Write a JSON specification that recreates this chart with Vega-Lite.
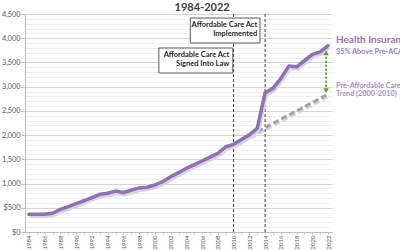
{
  "$schema": "https://vega.github.io/schema/vega-lite/v6.json",
  "width": 307,
  "height": 218,
  "autosize": "none",
  "padding": {"left": 25, "top": 14, "right": 68, "bottom": 18},
  "background": "white",
  "config": {
    "view": {"stroke": null},
    "font": "Lato",
    "axis": {"labelFont": "Lato", "labelColor": "#595959", "domainColor": "#bfbfbf", "tickColor": "#bfbfbf"}
  },
  "datasets": {
    "premium": [
      {"year": 1984, "cost": 365}, {"year": 1985, "cost": 365}, {"year": 1986, "cost": 367},
      {"year": 1987, "cost": 388}, {"year": 1988, "cost": 468}, {"year": 1989, "cost": 525},
      {"year": 1990, "cost": 585}, {"year": 1991, "cost": 645}, {"year": 1992, "cost": 712},
      {"year": 1993, "cost": 778}, {"year": 1994, "cost": 800}, {"year": 1995, "cost": 845},
      {"year": 1996, "cost": 815}, {"year": 1997, "cost": 865}, {"year": 1998, "cost": 910},
      {"year": 1999, "cost": 925}, {"year": 2000, "cost": 970}, {"year": 2001, "cost": 1040},
      {"year": 2002, "cost": 1140}, {"year": 2003, "cost": 1225}, {"year": 2004, "cost": 1315},
      {"year": 2005, "cost": 1390}, {"year": 2006, "cost": 1465}, {"year": 2007, "cost": 1545},
      {"year": 2008, "cost": 1625}, {"year": 2009, "cost": 1760}, {"year": 2010, "cost": 1810},
      {"year": 2011, "cost": 1910}, {"year": 2012, "cost": 2005}, {"year": 2013, "cost": 2140},
      {"year": 2014, "cost": 2875}, {"year": 2015, "cost": 2965}, {"year": 2016, "cost": 3170},
      {"year": 2017, "cost": 3425}, {"year": 2018, "cost": 3410}, {"year": 2019, "cost": 3535},
      {"year": 2020, "cost": 3665}, {"year": 2021, "cost": 3720}, {"year": 2022, "cost": 3845}
    ],
    "trend": [
      {"year": 2010, "cost": 1810},
      {"year": 2022, "cost": 2845}
    ],
    "events": [
      {"year": 2010, "cost": 0, "cost2": 4500, "label": "Signed Into Law"},
      {"year": 2014, "cost": 0, "cost2": 4500, "label": "Implemented"}
    ],
    "boxes": [
      {"year": 2004.5, "year2": 2013.35, "cost": 4417, "cost2": 3901},
      {"year": 2000.5, "year2": 2009.9, "cost": 3798, "cost2": 3282}
    ],
    "boxText": [
      {"year": 2013.0, "cost": 4272, "text": "Affordable Care Act"},
      {"year": 2013.0, "cost": 4081, "text": "Implemented"},
      {"year": 2009.45, "cost": 3653, "text": "Affordable Care Act"},
      {"year": 2009.45, "cost": 3461, "text": "Signed Into Law"}
    ],
    "gap": [
      {"year": 2021.75, "cost": 3700, "cost2": 2920}
    ],
    "heads": [
      {"year": 2021.75, "cost": 3700, "dir": "up"},
      {"year": 2021.75, "cost": 2920, "dir": "down"}
    ],
    "sideText": [
      {"kind": "main", "year": 2023.0, "cost": 3963, "text": "Health Insurance"},
      {"kind": "mainSub", "year": 2023.0, "cost": 3722, "text": "35% Above Pre-ACA"},
      {"kind": "trend", "year": 2023.0, "cost": 3014, "text": "Pre-Affordable Care"},
      {"kind": "trend", "year": 2023.0, "cost": 2849, "text": "Trend (2000-2010)"},
      {"kind": "title", "year": 2006.0, "cost": 4625, "text": "1984-2022"}
    ]
  },
  "encoding": {
    "x": {
      "field": "year", "type": "quantitative",
      "scale": {"domain": [1983.5, 2022.5], "nice": false, "zero": false},
      "axis": {
        "title": null,
        "values": [1984, 1985, 1986, 1987, 1988, 1989, 1990, 1991, 1992, 1993, 1994, 1995, 1996, 1997, 1998, 1999, 2000, 2001, 2002, 2003, 2004, 2005, 2006, 2007, 2008, 2009, 2010, 2011, 2012, 2013, 2014, 2015, 2016, 2017, 2018, 2019, 2020, 2021, 2022],
        "format": "d",
        "labelExpr": "datum.value % 2 === 0 ? datum.label : ''",
        "labelAngle": -90,
        "labelFontSize": 6,
        "labelPadding": 1,
        "labelOverlap": false,
        "labelFlush": false,
        "labelBound": false,
        "tickSize": 2,
        "grid": false
      }
    },
    "y": {
      "field": "cost", "type": "quantitative",
      "scale": {"domain": [0, 4500], "nice": false},
      "axis": {
        "title": null,
        "values": [0, 100, 200, 300, 400, 500, 600, 700, 800, 900, 1000, 1100, 1200, 1300, 1400, 1500, 1600, 1700, 1800, 1900, 2000, 2100, 2200, 2300, 2400, 2500, 2600, 2700, 2800, 2900, 3000, 3100, 3200, 3300, 3400, 3500, 3600, 3700, 3800, 3900, 4000, 4100, 4200, 4300, 4400, 4500],
        "labelExpr": "datum.value % 500 !== 0 ? '' : (datum.value < 1000 ? '$' + format(datum.value, 'd') : format(datum.value, ','))",
        "labelFontSize": 7.3,
        "labelPadding": 1,
        "labelOverlap": false,
        "labelBound": false,
        "tickSize": 4,
        "tickColor": {"condition": {"test": "datum.value % 500 === 0", "value": "#bfbfbf"}, "value": "transparent"},
        "grid": true,
        "gridColor": {"condition": {"test": "datum.value % 500 === 0", "value": "#d4d4d4"}, "value": "#f0f0f0"},
        "gridWidth": 1
      }
    }
  },
  "layer": [
    {
      "data": {"name": "events"},
      "mark": {"type": "rule", "color": "#404040", "strokeWidth": 1, "strokeDash": [3, 2]},
      "encoding": {"y2": {"field": "cost2"}}
    },
    {
      "data": {"name": "trend"},
      "mark": {"type": "line", "color": "#d8d8d8", "strokeWidth": 3, "strokeDash": [6, 3], "yOffset": 2, "xOffset": 1},
      "encoding": {}
    },
    {
      "data": {"name": "trend"},
      "mark": {"type": "line", "color": "#a79db6", "strokeWidth": 3, "strokeDash": [6, 3]},
      "encoding": {}
    },
    {
      "data": {"name": "premium"},
      "mark": {"type": "line", "color": "#d9d3e2", "strokeWidth": 4, "yOffset": 2, "xOffset": 1, "strokeJoin": "round"},
      "encoding": {}
    },
    {
      "data": {"name": "premium"},
      "mark": {"type": "line", "color": "#8e73b0", "strokeWidth": 3.5, "strokeJoin": "round", "strokeCap": "round"},
      "encoding": {}
    },
    {
      "data": {"name": "boxes"},
      "mark": {"type": "rect", "fill": "white", "stroke": "#595959", "strokeWidth": 1},
      "encoding": {"x2": {"field": "year2"}, "y2": {"field": "cost2"}}
    },
    {
      "data": {"name": "boxText"},
      "mark": {"type": "text", "align": "right", "baseline": "middle", "fontSize": 7.5, "fontWeight": "bold", "color": "#262626"},
      "encoding": {"text": {"field": "text"}}
    },
    {
      "data": {"name": "gap"},
      "mark": {"type": "rule", "color": "#5a9a28", "strokeWidth": 2, "strokeDash": [2, 2]},
      "encoding": {"y2": {"field": "cost2"}}
    },
    {
      "data": {"name": "heads"},
      "transform": [{"filter": "datum.dir === 'up'"}],
      "mark": {"type": "point", "shape": "triangle-up", "filled": true, "color": "#5a9a28", "size": 30, "opacity": 1},
      "encoding": {}
    },
    {
      "data": {"name": "heads"},
      "transform": [{"filter": "datum.dir === 'down'"}],
      "mark": {"type": "point", "shape": "triangle-down", "filled": true, "color": "#5a9a28", "size": 30, "opacity": 1},
      "encoding": {}
    },
    {
      "data": {"name": "sideText"},
      "transform": [{"filter": "datum.kind === 'main'"}],
      "mark": {"type": "text", "align": "left", "baseline": "middle", "fontSize": 10, "fontWeight": "bold", "color": "#8e73b0"},
      "encoding": {"text": {"field": "text"}}
    },
    {
      "data": {"name": "sideText"},
      "transform": [{"filter": "datum.kind === 'mainSub'"}],
      "mark": {"type": "text", "align": "left", "baseline": "middle", "fontSize": 7.3, "fontWeight": "bold", "color": "#9a82b9"},
      "encoding": {"text": {"field": "text"}}
    },
    {
      "data": {"name": "sideText"},
      "transform": [{"filter": "datum.kind === 'trend'"}],
      "mark": {"type": "text", "align": "left", "baseline": "middle", "fontSize": 7.3, "fontWeight": "bold", "color": "#a590c4"},
      "encoding": {"text": {"field": "text"}}
    },
    {
      "data": {"name": "sideText"},
      "transform": [{"filter": "datum.kind === 'title'"}],
      "mark": {"type": "text", "align": "center", "baseline": "middle", "fontSize": 11, "fontWeight": "bold", "color": "#404040"},
      "encoding": {"text": {"field": "text"}}
    }
  ]
}
